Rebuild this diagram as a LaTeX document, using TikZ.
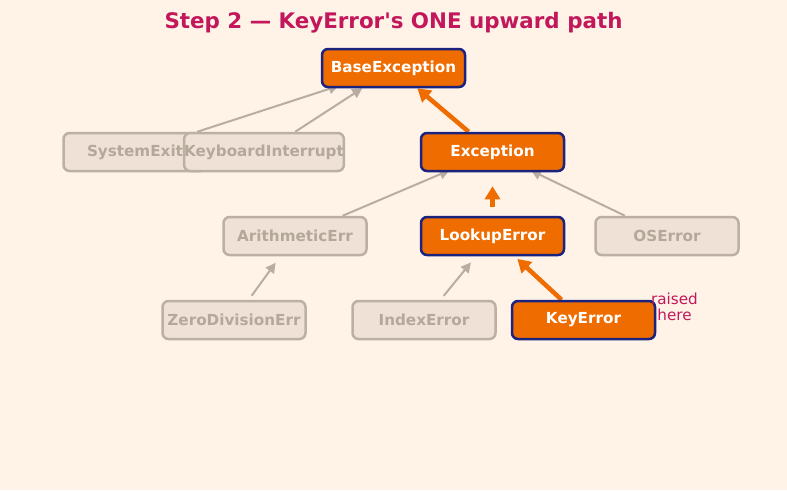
\documentclass[tikz,border=0pt]{standalone}
\usepackage{fontspec}
\setmainfont{DejaVu Sans}[Ligatures=TeXOff]
\usetikzlibrary{positioning,arrows.meta}

\definecolor{pagebg}{HTML}{FFF3E8}
\definecolor{titlecol}{HTML}{C2185B}
\definecolor{hotfill}{HTML}{EF6C00}
\definecolor{hotline}{HTML}{1A237E}
\definecolor{dimfill}{HTML}{EFE1D5}
\definecolor{dimline}{HTML}{BCAFA3}
\definecolor{dimtext}{HTML}{B4A89B}
\definecolor{edgegrey}{HTML}{B8ADA3}

\pgfdeclarelayer{back}
\pgfdeclarelayer{edges}
\pgfsetlayers{back,edges,main}

\tikzset{
  clsbox/.style={rectangle, rounded corners=6pt, minimum width=143pt, minimum height=38pt,
    inner sep=0pt, line width=2.5pt, font=\bfseries\fontsize{15.2}{18}\selectfont},
  hotbox/.style={clsbox, fill=hotfill, draw=hotline, text=white},
  dimbox/.style={clsbox, fill=dimfill, draw=dimline, text=dimtext},
  hotedge/.style={line width=4.5pt, draw=hotfill, -{Triangle[length=13pt,width=15pt]}},
  dimedge/.style={line width=2pt, draw=edgegrey, -{Triangle[length=10pt,width=10pt]}},
}

\begin{document}
\begin{tikzpicture}[x=1pt, y=-1pt]
    \begin{pgfonlayer}{back}
        \fill[pagebg] (0,0) rectangle (787,490);
    \end{pgfonlayer}
    \useasboundingbox (0,0) rectangle (787,490);

    \node[font=\bfseries\fontsize{21.4}{25}\selectfont, text=titlecol] (title) at (393.5,23) {Step 2 — KeyError's ONE upward path};

    \node[hotbox] (base) at (393.5,68) {BaseException};
    \node[dimbox] (sysexit) at (135,152) {SystemExit};
    \node[dimbox] (kbint) at (264,152) {KeyboardInterrupt};
    \node[hotbox] (exc) at (492.5,152) {Exception};
    \node[dimbox] (arith) at (295,236) {ArithmeticErr};
    \node[hotbox] (lookup) at (492.5,236) {LookupError};
    \node[dimbox] (oserr) at (667,236) {OSError};
    \node[dimbox] (zerodiv) at (234,320) {ZeroDivisionErr};
    \node[dimbox] (idx) at (424,320) {IndexError};
    \node[hotbox] (keyerr) at (583.5,320) {KeyError};

    \node[align=center, text=titlecol, font=\fontsize{15.2}{16.5}\selectfont] (raised) at (674.5,307) {raised\\here};

    \begin{pgfonlayer}{edges}
        % grey side branches
        \draw[dimedge, shorten >=-8pt] (sysexit) -- (base);
        \draw[dimedge] (kbint) -- (base);
        \draw[dimedge, shorten >=-5pt] (arith) -- (exc);
        \draw[dimedge, shorten >=-4pt] (oserr) -- (exc);
        \draw[dimedge, shorten <=5pt, shorten >=8pt] (zerodiv) -- (arith);
        \draw[dimedge, shorten <=5pt, shorten >=8pt] (idx) -- (lookup);

        % the one upward path
        \draw[hotedge, shorten >=4pt] (keyerr) -- (lookup);
        \draw[hotedge, shorten <=9pt, shorten >=14pt] (lookup) -- (exc);
        \draw[hotedge] (exc) -- (base);
    \end{pgfonlayer}
\end{tikzpicture}
\end{document}
